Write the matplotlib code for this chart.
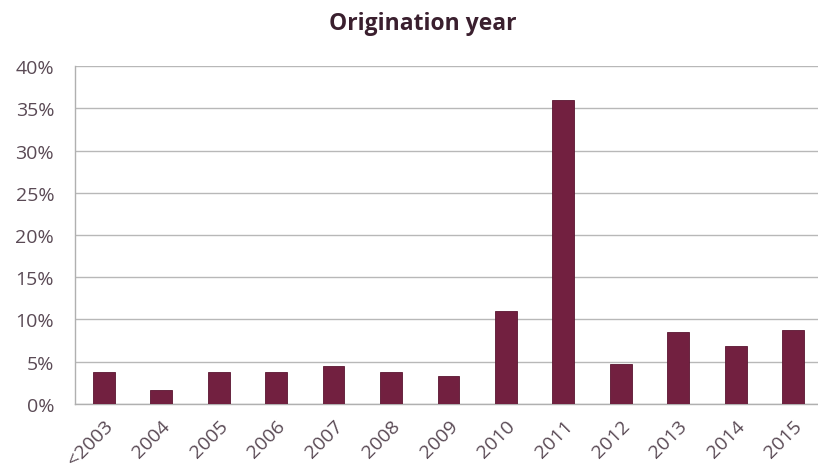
import matplotlib
matplotlib.use("Agg")
import matplotlib.pyplot as plt
import numpy as np

categories = ["<2003", "2004", "2005", "2006", "2007", "2008", "2009",
              "2010", "2011", "2012", "2013", "2014", "2015"]
values = [3.8, 1.7, 3.8, 3.8, 4.5, 3.8, 3.3, 11.0, 36.0, 4.7, 8.5, 6.9, 8.75]
yticks = [0, 5, 10, 15, 20, 25, 30, 35, 40]

plt.rcParams['font.family'] = ['Open Sans', 'DejaVu Sans']

fig = plt.figure(figsize=(8.18, 4.77), dpi=100)
ax = fig.add_axes([0.0917, 0.151, 0.913, 0.7085])

x = np.arange(len(categories))
ax.bar(x, values, width=0.38, color="#722040", edgecolor="#5a1530", linewidth=0.6, zorder=3)

ax.set_xlim(-0.5, len(categories) - 0.5)
ax.set_ylim(0, 40)
ax.set_yticks(yticks)
ax.set_yticklabels([f"{v}%" for v in yticks])
ax.yaxis.grid(True, color="#b8b8b8", linewidth=1.0, zorder=0)
ax.set_axisbelow(True)

ax.set_xticks(x)
ax.set_xticklabels(categories, rotation=45, ha="right", rotation_mode="anchor")

for s in ["top", "right"]:
    ax.spines[s].set_visible(False)
for s in ["left", "bottom"]:
    ax.spines[s].set_color("#b0b0b0")
    ax.spines[s].set_linewidth(1.0)

ax.tick_params(axis="both", length=0, labelsize=14, labelcolor="#5a4a55")
ax.tick_params(axis="y", pad=15)
ax.tick_params(axis="x", pad=9)

fig.text(0.517, 0.95, "Origination year", ha="center", va="center",
         fontsize=16.5, fontweight="bold", color="#3a1f2e")

fig.savefig("out.png", dpi=100)
